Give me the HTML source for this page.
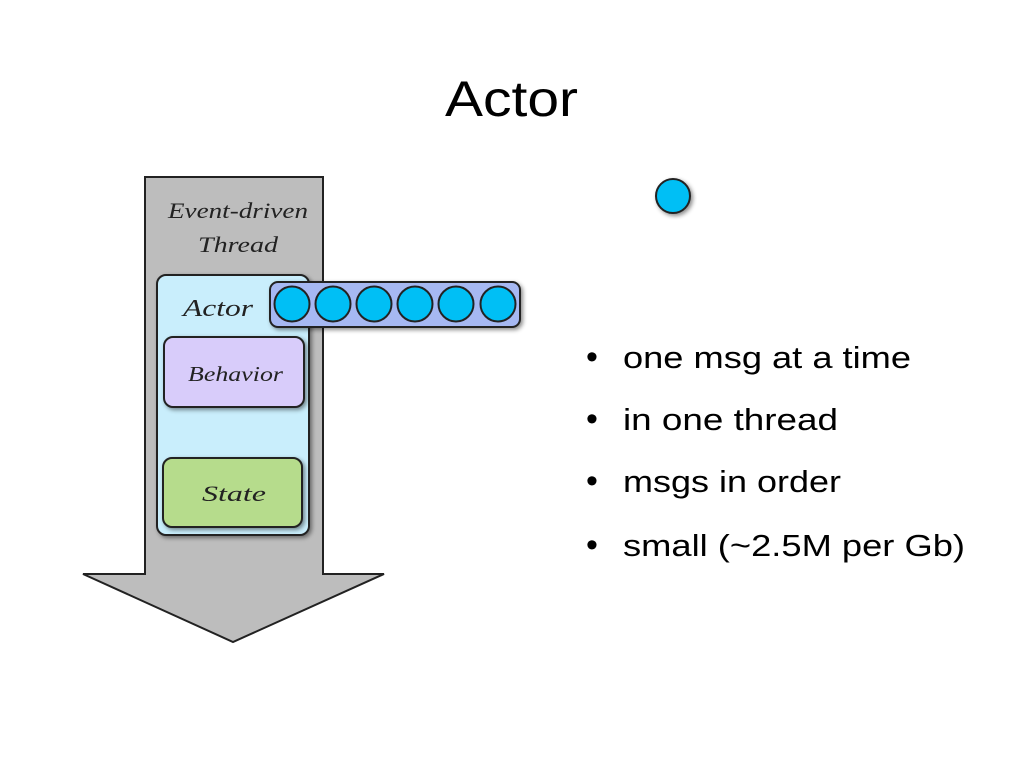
<!DOCTYPE html>
<html><head><style>
body{margin:0;width:1024px;height:768px;background:#fff;overflow:hidden;font-family:"Liberation Sans",sans-serif;}
</style></head><body>
<svg width="1024" height="768" viewBox="0 0 1024 768" xmlns="http://www.w3.org/2000/svg">
<defs>
<filter id="sh" x="-20%" y="-20%" width="140%" height="140%"><feDropShadow dx="2" dy="2" stdDeviation="2" flood-color="#000" flood-opacity="0.45"/></filter>
</defs>
<text x="445" y="116" textLength="133" lengthAdjust="spacingAndGlyphs" font-family="Liberation Sans, sans-serif" font-size="50" fill="#000">Actor</text>
<polygon points="145,177 323,177 323,574 384,574 233,642 83,574 145,574" fill="#bdbdbd" stroke="#222" stroke-width="2"/>
<g font-family="Liberation Serif, serif" font-style="italic" fill="#222">
<text x="168" y="218" font-size="22" textLength="140" lengthAdjust="spacingAndGlyphs">Event-driven</text>
<text x="198" y="252" font-size="22" textLength="80" lengthAdjust="spacingAndGlyphs">Thread</text>
</g>
<rect x="157" y="275" width="152" height="260" rx="9" fill="#c9eefc" stroke="#222" stroke-width="2" filter="url(#sh)"/>
<text x="183" y="316" font-family="Liberation Serif, serif" font-style="italic" font-size="24" fill="#222" textLength="70" lengthAdjust="spacingAndGlyphs">Actor</text>
<rect x="164" y="337" width="140" height="70" rx="9" fill="#d8ccfa" stroke="#222" stroke-width="2" filter="url(#sh)"/>
<text x="188" y="381" font-family="Liberation Serif, serif" font-style="italic" font-size="21" fill="#222" textLength="95" lengthAdjust="spacingAndGlyphs">Behavior</text>
<rect x="163" y="458" width="139" height="69" rx="9" fill="#b6dc8c" stroke="#222" stroke-width="2" filter="url(#sh)"/>
<text x="202" y="501" font-family="Liberation Serif, serif" font-style="italic" font-size="22" fill="#222" textLength="64" lengthAdjust="spacingAndGlyphs">State</text>
<rect x="270" y="282" width="250" height="45" rx="8" fill="#a6b8f2" stroke="#222" stroke-width="2" filter="url(#sh)"/>
<g fill="#00bff5" stroke="#222" stroke-width="2">
<circle cx="292" cy="304" r="17.5"/>
<circle cx="333" cy="304" r="17.5"/>
<circle cx="374" cy="304" r="17.5"/>
<circle cx="415" cy="304" r="17.5"/>
<circle cx="456" cy="304" r="17.5"/>
<circle cx="498" cy="304" r="17.5"/>
<circle cx="673" cy="196" r="17" filter="url(#sh)"/>
</g>
<g font-family="Liberation Sans, sans-serif" font-size="31" fill="#000" lengthAdjust="spacingAndGlyphs">
<text x="586" y="368" font-size="34">•</text><text x="623" y="368" textLength="288" lengthAdjust="spacingAndGlyphs">one msg at a time</text>
<text x="586" y="430" font-size="34">•</text><text x="623" y="430" textLength="215" lengthAdjust="spacingAndGlyphs">in one thread</text>
<text x="586" y="492" font-size="34">•</text><text x="623" y="492" textLength="218" lengthAdjust="spacingAndGlyphs">msgs in order</text>
<text x="586" y="556" font-size="34">•</text><text x="623" y="556" textLength="342" lengthAdjust="spacingAndGlyphs">small (~2.5M per Gb)</text>
</g>
</svg>
</body></html>
